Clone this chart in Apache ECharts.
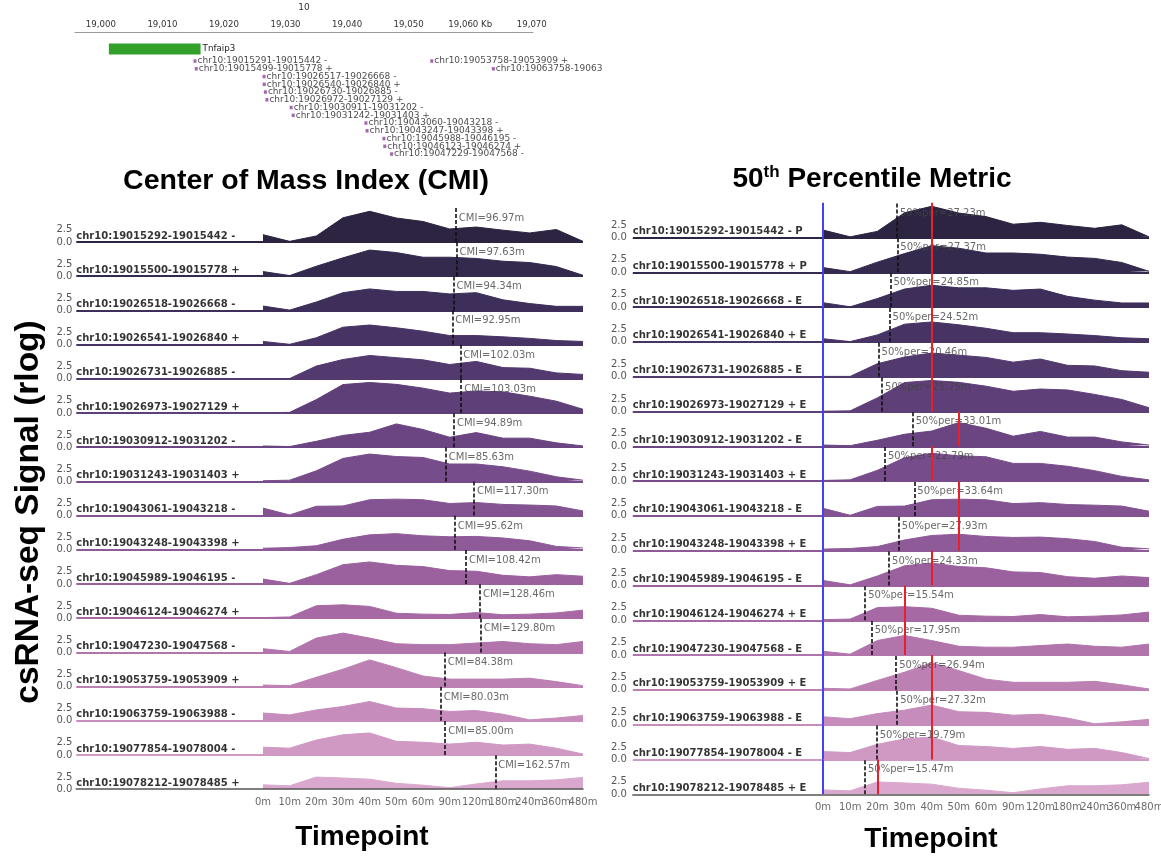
<!DOCTYPE html>
<html>
<head>
<meta charset="utf-8">
<script src="https://cdn.jsdelivr.net/npm/echarts@6/dist/echarts.min.js"></script>
<style>
  html, body { margin: 0; padding: 0; background: #fff; }
  #chart { width: 1161px; height: 856px; }
</style>
</head>
<body>
<div id="chart"></div>
<script>
// ---- csRNA-seq time course data ----
const TIMEPOINTS = ['0m', '10m', '20m', '30m', '40m', '50m', '60m', '90m', '120m', '180m', '240m', '360m', '480m'];
const TIME_MINUTES = [0, 10, 20, 30, 40, 50, 60, 90, 120, 180, 240, 360, 480];

const REGIONS = [
  'chr10:19015292-19015442 -', 'chr10:19015500-19015778 +', 'chr10:19026518-19026668 -',
  'chr10:19026541-19026840 +', 'chr10:19026731-19026885 -', 'chr10:19026973-19027129 +',
  'chr10:19030912-19031202 -', 'chr10:19031243-19031403 +', 'chr10:19043061-19043218 -',
  'chr10:19043248-19043398 +', 'chr10:19045989-19046195 -', 'chr10:19046124-19046274 +',
  'chr10:19047230-19047568 -', 'chr10:19053759-19053909 +', 'chr10:19063759-19063988 -',
  'chr10:19077854-19078004 -', 'chr10:19078212-19078485 +'
];
const REGION_CLASS = ['P', 'P', 'E', 'E', 'E', 'E', 'E', 'E', 'E', 'E', 'E', 'E', 'E', 'E', 'E', 'E', 'E'];

const CMI_MIN = [96.97, 97.63, 94.34, 92.95, 102.03, 103.03, 94.89, 85.63, 117.30, 95.62, 108.42, 128.46, 129.80, 84.38, 80.03, 85.00, 162.57];
const PER50_MIN = [27.23, 27.37, 24.85, 24.52, 20.46, 21.75, 33.01, 22.79, 33.64, 27.93, 24.33, 15.54, 17.95, 26.94, 27.32, 19.79, 15.47];

// rlog signal per region, one value per timepoint
const SIGNAL = [
  [1.50, 0.13, 1.23, 4.96, 6.28, 4.91, 4.20, 2.67, 3.06, 2.42, 1.85, 2.55, 0.13],
  [0.95, 0.13, 2.04, 3.76, 5.35, 4.84, 3.88, 3.88, 3.63, 3.06, 2.80, 1.97, 0.19],
  [0.89, 0.06, 1.72, 3.63, 4.39, 3.88, 3.88, 3.37, 3.63, 2.16, 1.40, 0.83, 0.83],
  [0.64, 0.06, 1.40, 3.56, 4.01, 3.44, 2.74, 1.85, 1.85, 1.59, 1.27, 0.83, 0.64],
  [0.06, 0.06, 2.61, 3.95, 4.77, 4.33, 3.88, 2.93, 3.56, 2.29, 2.16, 1.21, 0.89],
  [0.06, 0.13, 2.74, 5.82, 6.24, 5.86, 5.09, 4.07, 4.52, 4.33, 3.44, 2.42, 0.76],
  [0.25, 0.13, 1.21, 2.42, 3.06, 4.77, 3.63, 2.04, 2.99, 1.85, 1.85, 0.89, 0.25],
  [0.13, 0.25, 2.16, 4.71, 5.60, 5.09, 4.90, 3.56, 3.56, 2.99, 2.10, 0.95, 0.25],
  [1.53, 0.13, 1.91, 1.97, 3.25, 3.37, 3.25, 2.48, 2.67, 2.29, 2.16, 1.97, 0.95],
  [0.32, 0.45, 0.83, 2.16, 3.06, 3.31, 2.86, 2.67, 2.74, 2.42, 1.85, 0.70, 0.38],
  [1.02, 0.13, 1.91, 3.95, 4.52, 3.82, 3.56, 2.74, 2.61, 1.78, 1.46, 1.91, 1.59],
  [0.13, 0.25, 2.55, 2.74, 2.42, 1.02, 0.83, 0.76, 1.15, 0.70, 0.83, 1.08, 1.65],
  [0.76, 0.19, 2.93, 3.95, 2.93, 1.78, 1.59, 1.59, 1.91, 2.23, 1.78, 1.59, 2.23],
  [0.32, 0.19, 1.91, 3.56, 5.47, 3.88, 2.16, 1.53, 1.53, 1.53, 1.72, 1.02, 0.19],
  [1.59, 1.21, 2.23, 2.93, 3.95, 2.61, 2.48, 1.91, 2.10, 1.34, 0.19, 0.57, 1.08],
  [1.59, 1.40, 3.06, 4.14, 4.52, 2.80, 2.61, 2.23, 2.61, 2.04, 2.23, 1.40, 0.19],
  [0.89, 0.70, 2.48, 2.29, 2.04, 1.21, 0.83, 0.32, 1.08, 1.72, 1.72, 1.91, 2.42]
];

const ROW_COLORS = [
  '#2c2441', '#342a4e', '#3d2f5a', '#473464', '#52396e', '#5e3f78', '#6a4581', '#774c8a', '#835392',
  '#8f5a98', '#9b619e', '#a669a4', '#b174ab', '#bc80b3', '#c68cbb', '#d099c4', '#daa8ce'
];

// ---- genome browser track (positions in kb) ----
const CHROM_NAME = '10';
const RULER_TICKS_KB = [19000, 19010, 19020, 19030, 19040, 19050, 19060, 19070];
const GENE_NAME = 'Tnfaip3';
const GENE_SPAN_KB = [19001.3, 19016.2];
const TRACK_FEATURES = [
  'chr10:19015291-19015442 -', 'chr10:19015499-19015778 +', 'chr10:19026517-19026668 -',
  'chr10:19026540-19026840 +', 'chr10:19026730-19026885 -', 'chr10:19026972-19027129 +',
  'chr10:19030911-19031202 -', 'chr10:19031242-19031403 +', 'chr10:19043060-19043218 -',
  'chr10:19043247-19043398 +', 'chr10:19045988-19046195 -', 'chr10:19046123-19046274 +',
  'chr10:19047229-19047568 -', 'chr10:19053758-19053909 +', 'chr10:19063758-19063988 -'
];
const TRACK_ROWS = [0, 1, 2, 3, 4, 5, 6, 7, 8, 9, 10, 11, 12, 0, 1];

// ---- helpers ----
const SANS = '"DejaVu Sans", sans-serif';
const HEAD = '"Liberation Sans", Arial, sans-serif';
const Y_MAX = 7;

function minuteToIndex(m) {
  for (let j = 0; j < TIME_MINUTES.length - 1; j++) {
    if (m <= TIME_MINUTES[j + 1]) {
      return j + (m - TIME_MINUTES[j]) / (TIME_MINUTES[j + 1] - TIME_MINUTES[j]);
    }
  }
  return TIME_MINUTES.length - 1;
}
function peakIndex(vals) {
  let best = 0;
  vals.forEach((v, j) => { if (v > vals[best]) best = j; });
  return best;
}
function featureStartKb(name) {
  return parseInt(name.split(':')[1].split('-')[0], 10) / 1000;
}
function fmtKb(v) {
  const s = String(v).replace(/\B(?=(\d{3})+(?!\d))/g, ',');
  return v === 19060 ? s + ' Kb' : s;
}

// two ridge panels: centre of mass (left) and 50th percentile (right)
const PANELS = [
  { key: 'cmi', left: 76.3, width: 506.7, top0: 207.8, rowH: 34.2, yMargin: 4, textY: 4.85 },
  { key: 'per', left: 632.8, width: 516.2, top0: 202.7, rowH: 34.8, yMargin: 6, textY: 4.93 }
];

const grids = [], xAxes = [], yAxes = [], series = [];

// genome track grid
grids.push({ left: 75, top: 32, width: 458, height: 131.75 });
xAxes.push({
  type: 'value', gridIndex: 0, position: 'top', min: 18995.8, max: 19070.2,
  axisLine: { show: true, lineStyle: { color: '#9a9a9a', width: 1 } },
  axisTick: { show: false },
  splitLine: { show: false },
  axisLabel: { customValues: RULER_TICKS_KB, formatter: fmtKb, color: '#333', fontSize: 8.6, fontFamily: SANS, margin: 3 },
  name: CHROM_NAME, nameLocation: 'middle', nameGap: 20,
  nameTextStyle: { color: '#333', fontSize: 9, fontFamily: SANS }
});
yAxes.push({ type: 'value', gridIndex: 0, inverse: true, min: 0, max: 17, show: false });

series.push({
  type: 'line', xAxisIndex: 0, yAxisIndex: 0, silent: true,
  data: GENE_SPAN_KB.map(kb => [kb, 2.2]),
  symbol: 'none',
  lineStyle: { color: '#33a02c', width: 11, cap: 'butt' },
  endLabel: { show: true, formatter: GENE_NAME, distance: 2, color: '#222', fontSize: 8.7, fontFamily: SANS }
});
series.push({
  id: 'features', type: 'scatter', xAxisIndex: 0, yAxisIndex: 0, silent: true,
  data: TRACK_FEATURES.map((name, k) => ({ value: [featureStartKb(name), 3.75 + TRACK_ROWS[k]], name })),
  symbol: 'rect', symbolSize: [3, 3.5],
  itemStyle: { color: '#8e3f9c' },
  label: { show: true, position: 'right', distance: 1, formatter: p => p.name, color: '#1a1a1a', fontSize: 9, fontFamily: SANS }
});

// ridge rows
PANELS.forEach((panel, pi) => {
  REGIONS.forEach((region, i) => {
    const gi = grids.length;
    const last = i === REGIONS.length - 1;
    const color = ROW_COLORS[i];
    grids.push({ left: panel.left, width: panel.width, top: panel.top0 + panel.rowH * i, height: panel.rowH });
    xAxes.push({
      type: 'value', gridIndex: gi, min: -7, max: 12, z: last ? 10 : 0,
      axisLine: { show: last, lineStyle: { color: '#555', width: 1.5 } },
      axisTick: { show: false },
      splitLine: { show: false },
      axisLabel: { show: false }
    });
    yAxes.push({
      type: 'value', gridIndex: gi, min: 0, max: Y_MAX,
      axisLine: { show: false }, axisTick: { show: false }, splitLine: { show: false },
      axisLabel: { customValues: [0, 2.5], formatter: v => v.toFixed(1), color: '#555', fontSize: 10, fontFamily: SANS, margin: panel.yMargin }
    });

    // filled signal
    series.push({
      type: 'line', xAxisIndex: gi, yAxisIndex: gi, silent: true, z: 2,
      data: SIGNAL[i].map((v, j) => [j, v]),
      symbol: 'none',
      lineStyle: { color: color, width: 1 },
      areaStyle: { color: color, opacity: 1 },
      markLine: last ? undefined : {
        silent: true, symbol: ['none', 'none'], label: { show: false },
        lineStyle: { color: color, width: 2, type: 'solid' },
        data: [{ yAxis: 0 }]
      }
    });

    // region name on the baseline
    series.push({
      type: 'scatter', xAxisIndex: gi, yAxisIndex: gi, silent: true, z: 4,
      data: [[-7, 0]], symbolSize: 0,
      label: {
        show: true, position: 'insideBottomLeft', distance: 0, offset: [0, -1],
        formatter: pi === 0 ? region : region + ' ' + REGION_CLASS[i],
        color: '#000', fontWeight: 'bold', fontSize: 10, fontFamily: SANS, align: 'left', verticalAlign: 'bottom'
      }
    });

    // timepoint names under the bottom row (all shown, even where they touch)
    if (last) {
      series.push({
        type: 'scatter', xAxisIndex: gi, yAxisIndex: gi, silent: true, z: 4, clip: false,
        data: TIMEPOINTS.map((t, j) => ({ value: [j, 0], name: t })), symbolSize: 0,
        labelLayout: { hideOverlap: false },
        label: { show: true, position: 'bottom', distance: 8, formatter: p => p.name, color: '#444', fontSize: 10, fontFamily: SANS }
      });
    }

    // timing metric: dashed marker + text
    const minutes = pi === 0 ? CMI_MIN[i] : PER50_MIN[i];
    const idx = minuteToIndex(minutes);
    const text = (pi === 0 ? 'CMI=' : '50%per=') + minutes.toFixed(2) + 'm';
    series.push({
      type: 'scatter', xAxisIndex: gi, yAxisIndex: gi, silent: true, z: 3,
      data: [[idx, panel.textY]], symbolSize: 0,
      label: { show: true, position: 'right', distance: 3, formatter: text, color: '#444', fontSize: 10, fontFamily: SANS },
      markLine: {
        silent: true, symbol: ['none', 'none'], label: { show: false },
        lineStyle: { color: '#111', width: 1.6, type: [4, 2] },
        data: [{ xAxis: idx }]
      }
    });

    if (pi === 1) {
      // peak timepoint (red) and time zero (blue)
      series.push({
        type: 'scatter', xAxisIndex: gi, yAxisIndex: gi, silent: true, z: 5,
        data: [], symbolSize: 0,
        markLine: {
          silent: true, symbol: ['none', 'none'], label: { show: false },
          data: [
            { xAxis: peakIndex(SIGNAL[i]), lineStyle: { color: '#e8202a', width: 2, type: 'solid' } },
            { xAxis: 0, lineStyle: { color: '#4343f5', width: 2, type: 'solid' } }
          ]
        }
      });
    }
  });
});

const option = {
  animation: false,
  backgroundColor: '#fff',
  grid: grids, xAxis: xAxes, yAxis: yAxes, series: series,
  graphic: [
    { type: 'text', x: 306, y: 181, silent: true,
      style: { text: 'Center of Mass Index (CMI)', font: 'bold 28.5px ' + HEAD, fill: '#000', textAlign: 'center', textVerticalAlign: 'middle' } },
    { type: 'text', x: 872, y: 179, silent: true,
      style: {
        text: '{n|50}{s|th}{n| Percentile Metric}', fill: '#000', textAlign: 'center', textVerticalAlign: 'middle',
        rich: {
          n: { fontSize: 28, fontWeight: 'bold', fontFamily: HEAD, lineHeight: 30, fill: '#000' },
          s: { fontSize: 17, fontWeight: 'bold', fontFamily: HEAD, lineHeight: 30, verticalAlign: 'top', fill: '#000' }
        }
      } },
    { type: 'text', x: 362, y: 837, silent: true,
      style: { text: 'Timepoint', font: 'bold 28px ' + HEAD, fill: '#000', textAlign: 'center', textVerticalAlign: 'middle' } },
    { type: 'text', x: 931, y: 839, silent: true,
      style: { text: 'Timepoint', font: 'bold 28px ' + HEAD, fill: '#000', textAlign: 'center', textVerticalAlign: 'middle' } },
    { type: 'text', x: 29, y: 512, rotation: Math.PI / 2, silent: true,
      style: { text: 'csRNA-seq Signal (rlog)', font: 'bold 33.5px ' + HEAD, fill: '#000', textAlign: 'center', textVerticalAlign: 'middle' } }
  ]
};

const chart = echarts.init(document.getElementById('chart'), null, { renderer: 'canvas' });
chart.setOption(option);

// the track view ends at x=603: trim feature labels that run past it
const TRACK_CLIP_X = 603;
const featureData = TRACK_FEATURES.map((name, k) => {
  const value = [featureStartKb(name), 3.75 + TRACK_ROWS[k]];
  const px = chart.convertToPixel({ gridIndex: 0 }, value)[0];
  return { value, name, label: { width: Math.max(10, TRACK_CLIP_X - px - 1), overflow: 'truncate', ellipsis: '' } };
});
chart.setOption({ series: [{ id: 'features', data: featureData }] });
</script>
</body>
</html>
